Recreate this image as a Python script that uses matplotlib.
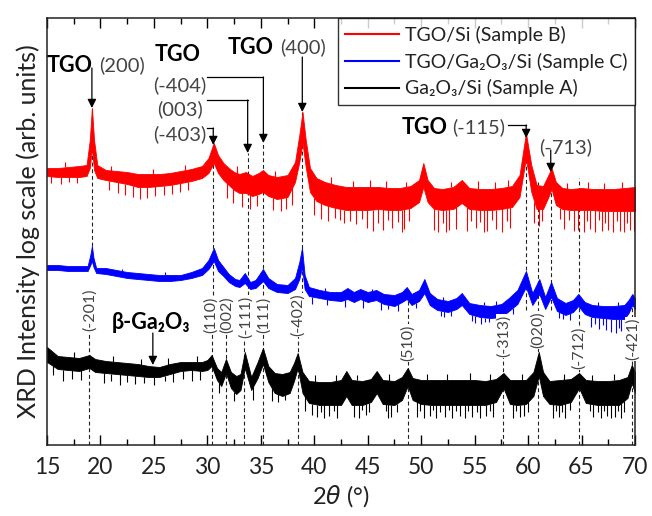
import numpy as np
import matplotlib as mpl
mpl.use('Agg')
import matplotlib.pyplot as plt

# XRD scans, 2theta in degrees, intensity on an offset log scale (arb. units)
# every trace is noisy, so it is kept as the upper / lower edge of the signal band
# plus the downward noise spikes and a few upward ones

# TGO/Si (Sample B) - red
b_tth = [15.0, 16.0, 17.0, 18.0, 18.7, 19.0, 19.2, 19.4, 19.7, 20.5, 21.5, 22.5, 23.5, 24.5,
         25.5, 26.5, 27.5, 28.5, 29.5, 30.1, 30.6, 31.0, 31.5, 32.0, 32.5, 33.0, 33.6, 34.2,
         34.8, 35.2, 35.7, 36.5, 37.5, 38.2, 38.6, 38.9, 39.2, 39.6, 40.2, 41.0, 42.0, 43.0,
         44.0, 45.0, 46.0, 47.0, 48.0, 49.0, 49.8, 50.2, 50.6, 51.2, 52.0, 53.0, 53.8, 54.5,
         55.5, 56.5, 57.5, 58.5, 59.2, 59.8, 60.3, 60.8, 61.4, 61.9, 62.2, 62.6, 63.2, 64.0,
         65.0, 66.0, 67.0, 68.0, 69.0, 70.0]
b_hi = [277, 277, 278, 279, 280, 305, 337, 305, 280, 275, 274, 273, 271, 271,
        271, 272, 274, 276, 279, 287, 302, 290, 282, 277, 273, 271, 273, 269,
        272, 275, 270, 268, 270, 283, 310, 333, 305, 277, 267, 263, 260, 258,
        258, 258, 258, 257, 257, 259, 265, 282, 265, 257, 256, 258, 265, 257,
        256, 256, 257, 259, 270, 312, 280, 260, 259, 270, 277, 263, 257, 256,
        257, 256, 256, 256, 257, 258]
b_lo = [269, 268, 268, 268, 269, 277, 297, 275, 267, 265, 263, 261, 258, 258,
        259, 260, 262, 264, 267, 272, 282, 272, 265, 260, 255, 252, 252, 249,
        251, 253, 249, 246, 248, 263, 283, 302, 278, 253, 244, 240, 237, 235,
        235, 235, 236, 235, 235, 237, 243, 258, 243, 236, 235, 236, 242, 236,
        235, 235, 236, 238, 248, 287, 253, 236, 236, 248, 256, 240, 236, 235,
        235, 235, 234, 234, 234, 234]
b_dip_x = [15.4, 16.3, 17.1, 17.8, 20.8, 21.6, 22.3, 23.0, 23.7, 24.4, 25.1, 25.9, 26.7,
           27.4, 28.2, 31.8, 32.4, 33.2, 34.0, 34.6, 36.1, 36.9, 37.4, 37.9, 40.0, 40.6,
           41.3, 41.9, 42.4, 42.8, 43.3, 43.9, 44.5, 44.9, 45.5, 46.0, 46.4, 46.9, 47.3,
           47.8, 48.2, 48.4, 48.9, 51.2, 51.6, 52.0, 52.3, 52.6, 53.3, 54.3, 54.7, 55.1,
           55.5, 55.9, 56.2, 56.6, 57.0, 57.6, 58.0, 58.3, 60.6, 61.0, 61.3, 63.0, 63.4,
           63.8, 64.3, 64.7, 65.2, 65.5, 65.8, 66.3, 66.6, 66.9, 67.2, 67.5, 67.9, 68.3,
           68.6, 69.0, 69.3, 69.5, 69.9]
b_dip_v = [262, 261, 263, 262, 255, 252, 250, 248, 246, 247, 249, 250, 251,
           253, 255, 247, 242, 238, 236, 239, 235, 234, 236, 240, 230, 226,
           224, 227, 225, 222, 224, 221, 226, 217, 214, 222, 215, 225, 217,
           223, 213, 216, 224, 215, 213, 222, 213, 215, 216, 214, 224, 217,
           223, 213, 214, 225, 216, 213, 224, 217, 222, 219, 224, 226, 216,
           225, 214, 215, 213, 224, 216, 213, 225, 214, 222, 215, 213, 224,
           214, 213, 222, 215, 214]
b_up_x = [16.7, 21.0, 24.9, 27.9, 32.8, 36.3, 41.6, 43.6, 45.2, 46.7, 48.6, 52.8, 55.3,
          56.9, 58.1, 63.6, 65.6, 67.1, 68.8]
b_up_v = [283, 279, 276, 280, 279, 274, 268, 264, 265, 264, 263, 263, 264,
          263, 265, 262, 263, 262, 263]

# TGO/Ga2O3/Si (Sample C) - blue
c_tth = [15.0, 16.0, 17.0, 18.0, 18.8, 19.05, 19.2, 19.35, 19.6, 20.5, 21.5, 22.5, 23.5,
         24.5, 25.5, 26.5, 27.5, 28.5, 29.5, 30.1, 30.6, 31.0, 31.5, 32.0, 32.6, 33.0, 33.5,
         34.0, 34.5, 35.2, 35.7, 36.5, 37.5, 38.2, 38.6, 38.85, 39.1, 39.5, 40.5, 41.5, 42.5,
         43.1, 43.7, 44.3, 45.0, 45.8, 46.5, 47.5, 48.2, 48.65, 49.1, 49.8, 50.3, 50.8, 51.5,
         52.5, 53.3, 53.8, 54.5, 55.5, 56.5, 57.5, 58.2, 59.0, 59.8, 60.4, 61.05, 61.6, 62.15,
         62.7, 63.5, 64.2, 64.7, 65.3, 66.0, 67.0, 68.0, 69.0, 69.4, 69.75, 70.0]
c_hi = [180, 180, 179, 179, 179, 190, 199, 187, 177, 177, 175, 173, 172,
        171, 170, 170, 170, 173, 177, 185, 197, 185, 178, 171, 166, 165, 172,
        163, 165, 176, 167, 161, 160, 167, 183, 197, 170, 158, 155, 153, 153,
        157, 153, 156, 153, 155, 151, 150, 153, 158, 151, 155, 166, 152, 146,
        144, 147, 152, 142, 140, 139, 141, 147, 155, 174, 152, 166, 148, 163,
        147, 142, 145, 151, 143, 140, 139, 139, 140, 145, 151, 147]
c_lo = [175, 175, 174, 174, 174, 180, 184, 178, 172, 171, 169, 167, 166,
        165, 164, 164, 165, 167, 170, 176, 184, 174, 169, 163, 159, 158, 162,
        156, 157, 164, 157, 153, 152, 156, 166, 178, 156, 149, 147, 145, 144,
        146, 143, 146, 143, 145, 141, 139, 143, 146, 140, 144, 152, 140, 135,
        133, 136, 140, 131, 128, 127, 128, 134, 141, 158, 140, 151, 136, 148,
        134, 130, 133, 139, 131, 128, 127, 126, 126, 132, 140, 136]
c_dip_x = [39.8, 41.2, 42.9, 44.6, 46.2, 46.9, 47.8, 49.5, 51.9, 52.1, 52.8, 54.8, 55.0,
           55.6, 56.0, 56.3, 57.0, 57.4, 58.6, 62.9, 63.3, 63.9, 65.9, 66.3, 66.6, 67.0,
           67.3, 67.8, 68.2, 68.5, 68.7, 69.1]
c_dip_v = [141, 140, 138, 137, 135, 136, 134, 137, 129, 128, 129, 124, 122,
           121, 123, 123, 122, 124, 131, 127, 126, 125, 118, 121, 116, 120,
           115, 113, 112, 117, 114, 115]
c_up_x = [22.0, 26.0, 41.0, 45.4, 52.0, 55.9, 57.0, 66.5, 68.4]
c_up_v = [176, 173, 157, 156, 148, 143, 144, 143, 143]

# Ga2O3/Si (Sample A) - black
a_tth = [15.0, 16.0, 17.0, 18.0, 18.96, 19.5, 20.5, 21.5, 22.5, 23.5, 24.5, 25.5, 26.5,
         27.5, 28.5, 29.5, 30.0, 30.4, 30.9, 31.3, 31.74, 32.2, 32.7, 33.1, 33.5, 34.1,
         34.7, 35.2, 35.7, 36.3, 37.0, 37.7, 38.1, 38.45, 38.9, 39.5, 40.5, 41.5, 42.5,
         43.0, 43.5, 44.5, 45.3, 45.84, 46.4, 47.5, 48.2, 48.74, 49.2, 50.0, 51.0, 52.0,
         53.0, 54.0, 55.0, 56.0, 57.0, 57.7, 58.3, 59.0, 59.8, 60.5, 61.0, 61.4, 62.0,
         63.0, 64.0, 64.77, 65.4, 66.5, 67.5, 68.5, 69.3, 69.7, 70.0]
a_hi = [98, 89, 88, 87, 90, 86, 84, 83, 82, 81, 79, 78, 81,
        83, 83, 83, 85, 90, 77, 73, 86, 73, 69, 71, 93, 68,
        83, 97, 79, 72, 71, 73, 82, 92, 73, 64, 63, 63, 65,
        74, 65, 64, 66, 74, 65, 64, 68, 77, 67, 65, 65, 65,
        65, 65, 65, 64, 66, 72, 65, 65, 65, 73, 93, 73, 64,
        65, 66, 72, 65, 64, 64, 65, 68, 80, 73]
a_lo = [83, 76, 75, 74, 77, 73, 72, 71, 70, 69, 68, 68, 71,
        74, 75, 74, 75, 79, 65, 59, 72, 57, 51, 55, 77, 55,
        67, 81, 63, 52, 49, 52, 64, 77, 52, 42, 40, 40, 40,
        49, 40, 40, 43, 52, 41, 40, 45, 59, 45, 41, 40, 40,
        40, 40, 40, 40, 43, 57, 41, 40, 41, 49, 69, 49, 41,
        40, 43, 57, 42, 40, 40, 40, 47, 62, 52]
a_dip_x = [15.6, 16.5, 17.3, 18.2, 20.3, 21.0, 21.8, 22.5, 23.2, 24.1, 25.0, 26.0, 26.8,
           27.7, 28.6, 29.3, 31.1, 32.5, 34.3, 36.0, 36.6, 37.3, 39.1, 39.8, 40.3, 40.6,
           40.9, 41.4, 41.8, 42.1, 43.7, 44.2, 44.5, 44.8, 45.1, 46.7, 46.9, 47.2, 47.7,
           49.6, 49.9, 50.3, 50.8, 51.1, 51.4, 51.8, 52.2, 52.6, 52.9, 53.3, 53.6, 54.1,
           54.4, 54.8, 55.2, 55.5, 56.1, 56.4, 56.7, 58.6, 58.9, 59.2, 59.6, 60.0, 62.3,
           62.6, 62.9, 63.2, 63.5, 63.9, 65.8, 66.1, 66.5, 66.8, 67.1, 67.4, 67.8, 68.1,
           68.4, 68.7, 69.0]
a_dip_v = [70, 64, 66, 65, 62, 64, 60, 63, 61, 62, 60, 64, 63,
           66, 64, 65, 52, 44, 45, 44, 43, 45, 34, 30, 28, 33,
           27, 29, 34, 27, 28, 27, 35, 30, 33, 34, 27, 28, 33,
           28, 34, 27, 29, 35, 27, 33, 28, 35, 27, 34, 29, 27,
           34, 28, 33, 27, 29, 34, 28, 27, 34, 28, 29, 33, 27,
           34, 28, 33, 27, 35, 34, 28, 33, 27, 34, 29, 27, 28,
           34, 27, 33]
a_up_x = [17.5, 21.2, 23.8, 26.3, 29.0, 40.1, 42.0, 44.0, 47.0, 50.5, 52.4, 54.6, 56.4,
          59.4, 63.4, 66.0, 68.0]
a_up_v = [93, 89, 86, 87, 89, 70, 70, 70, 71, 71, 71, 72, 71,
          71, 71, 70, 71]

# beta-Ga2O3 reflections (dashed lines + rotated labels)
ga_pos = [18.96, 30.4, 31.74, 33.46, 35.24, 38.45, 48.74, 57.7, 60.95, 64.77, 69.75]
ga_hkl = ['(-201)', '(110)', '(002)', '(-111)', '(111)', '(-402)', '(510)', '(-313)',
          '(020)', '(-712)', '(-421)']
ga_lab_x = [18.96, 30.3, 31.85, 33.6, 35.3, 38.45, 48.74, 57.7, 60.95, 64.77, 69.75]
ga_lab_v = [135, 130, 130, 128, 130, 130, 102, 109, 115, 97, 106]
ga_line_top = [135, 130, 130, 128, 130, 130, 150, 140, 263, 267, 150]

# TGO reflections (dashed guide lines below the arrows)
tgo_pos = [19.2, 30.55, 33.77, 35.24, 38.88, 59.82, 62.12]
tgo_line_top = [337, 300, 292, 302, 333, 307, 273]
tgo_line_bot = [199, 150, 150, 150, 150, 135, 135]

plt.rcParams['font.family'] = ['Lato', 'DejaVu Sans']
plt.rcParams['mathtext.fontset'] = 'custom'
plt.rcParams['mathtext.rm'] = 'Lato'
plt.rcParams['mathtext.it'] = 'DejaVu Sans:italic'
plt.rcParams['mathtext.bf'] = 'Lato:bold'

fig = plt.figure(figsize=(6.52, 5.16), dpi=100)
ax = fig.add_axes([0.0721, 0.1376, 0.9018, 0.8275])

dash = (0, (3.5, 2.5))
for x, t, b in zip(tgo_pos, tgo_line_top, tgo_line_bot):
    ax.plot([x, x], [b, t], color='#222222', lw=0.8, ls=dash, zorder=1)
for x, t in zip(ga_pos, ga_line_top):
    ax.plot([x, x], [0, t], color='#222222', lw=0.8, ls=dash, zorder=1)

traces = [
    (b_tth, b_hi, b_lo, b_dip_x, b_dip_v, b_up_x, b_up_v, '#ff0000', 'TGO/Si (Sample B)'),
    (c_tth, c_hi, c_lo, c_dip_x, c_dip_v, c_up_x, c_up_v, '#0000ff', 'TGO/Ga₂O₃/Si (Sample C)'),
    (a_tth, a_hi, a_lo, a_dip_x, a_dip_v, a_up_x, a_up_v, '#000000', 'Ga₂O₃/Si (Sample A)'),
]
for tth, hi, lo, dx, dv, ux, uv, col, lab in traces:
    ax.fill_between(tth, lo, hi, color=col, lw=0.6, zorder=2)
    ax.vlines(dx, dv, np.interp(dx, tth, lo), color=col, lw=0.8, zorder=2)
    ax.vlines(ux, np.interp(ux, tth, hi), uv, color=col, lw=0.8, zorder=2)
    ax.plot([], [], color=col, lw=1.5, label=lab)

lab_kw = dict(fontsize=14.5, color='#444444')
tgo_kw = dict(fontsize=15.5, fontweight='bold', color='black')
arr = dict(arrowstyle='-|>', color='black', lw=0.9, mutation_scale=13, shrinkA=0, shrinkB=0)

# TGO (200)
ax.text(15.0, 380, 'TGO', ha='left', va='center', **tgo_kw)
ax.text(19.86, 380, '(200)', ha='left', va='center', **lab_kw)
ax.annotate('', xy=(19.2, 337), xytext=(19.2, 377), arrowprops=arr)

# TGO (-404) (003) (-403)
ax.text(27.25, 391, 'TGO', ha='center', va='center', **tgo_kw)
ax.text(29.87, 360, '(-404)', ha='right', va='center', **lab_kw)
ax.text(29.6, 336, '(003)', ha='right', va='center', **lab_kw)
ax.text(29.87, 311, '(-403)', ha='right', va='center', **lab_kw)
ax.plot([29.95, 35.24], [368, 368], color='black', lw=0.9)
ax.annotate('', xy=(35.24, 302), xytext=(35.24, 368), arrowprops=arr)
ax.plot([29.95, 33.77], [345, 345], color='black', lw=0.9)
ax.annotate('', xy=(33.77, 292), xytext=(33.77, 345), arrowprops=arr)
ax.plot([29.95, 30.55], [317, 317], color='black', lw=0.9)
ax.annotate('', xy=(30.55, 300), xytext=(30.55, 317), arrowprops=arr)

# TGO (400)
ax.text(31.93, 398, 'TGO', ha='left', va='center', **tgo_kw)
ax.text(36.8, 398, '(400)', ha='left', va='center', **lab_kw)
ax.annotate('', xy=(38.88, 333), xytext=(38.88, 388), arrowprops=arr)

# TGO (-115) and (-713)
ax.text(48.2, 318, 'TGO', ha='left', va='center', **tgo_kw)
ax.text(52.89, 318, '(-115)', ha='left', va='center', **lab_kw)
ax.plot([58.12, 59.82], [320, 320], color='black', lw=0.9)
ax.annotate('', xy=(59.82, 307), xytext=(59.82, 320), arrowprops=arr)
ax.text(61.02, 298, '(-713)', ha='left', va='center', **lab_kw)
ax.annotate('', xy=(62.12, 273), xytext=(62.12, 295), arrowprops=arr)

# beta-Ga2O3
ax.text(24.73, 123, 'β-Ga₂O₃', ha='center', va='center', **tgo_kw)
ax.annotate('', xy=(24.9, 80), xytext=(24.9, 112), arrowprops=arr)
for x, hkl, v in zip(ga_lab_x, ga_hkl, ga_lab_v):
    ax.text(x, v, hkl, rotation=90, ha='center', va='center', fontsize=11.5,
            color='#444444', zorder=3, bbox=dict(fc='white', ec='none', pad=0.3))

ax.set_xlim(15, 70)
ax.set_ylim(0, 427)
ax.set_xticks(np.arange(15, 71, 5))
ax.set_xticks(np.arange(17.5, 70, 5), minor=True)
ax.set_yticks([])
ax.tick_params(axis='x', which='both', direction='in', top=True, width=1.0)
ax.tick_params(axis='x', which='major', length=7, labelsize=16.5, pad=9, labelcolor='#222222')
ax.tick_params(axis='x', which='minor', length=4)
for s in ax.spines.values():
    s.set_linewidth(1.1)
    s.set_color('#222222')

ax.set_xlabel(r'$2\theta$ (°)', fontsize=17, color='#222222', labelpad=3)
ax.set_ylabel('XRD Intensity log scale (arb. units)', fontsize=18, color='#222222',
              labelpad=5)

leg = ax.legend(loc='upper right', bbox_to_anchor=(1, 1), borderaxespad=0, fontsize=14,
                frameon=True, fancybox=False, edgecolor='black', handlelength=2.75,
                handletextpad=0.3, labelspacing=0.45, borderpad=0.4)
leg.get_frame().set_linewidth(1.0)
for t in leg.get_texts():
    t.set_color('#222222')

fig.savefig('out.png', dpi=100)
